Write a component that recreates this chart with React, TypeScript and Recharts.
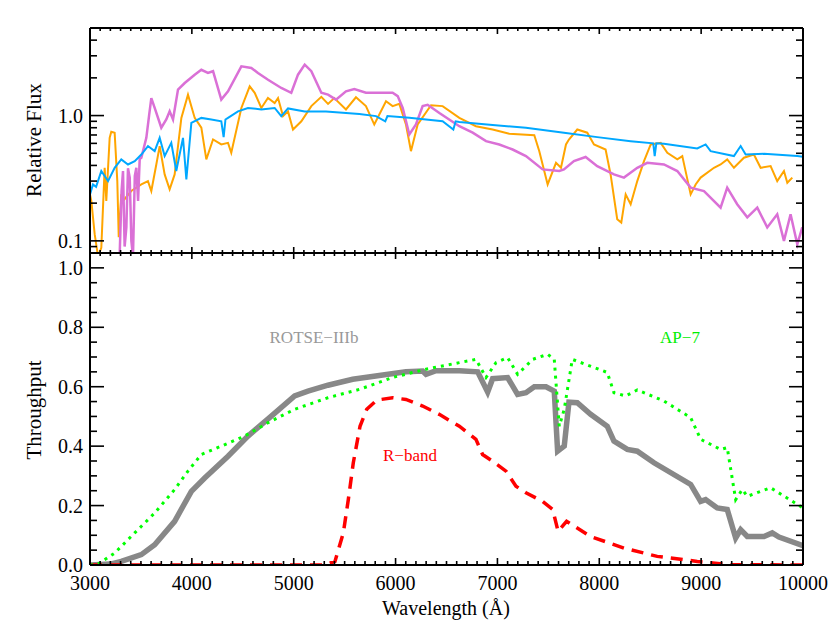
import { LineChart, Line, XAxis, YAxis } from 'recharts'

// ---- top panel: spectra (wavelength in Å, relative flux) ----
const BLUE_W = [3000, 3029, 3060, 3111, 3177, 3242, 3307, 3373, 3439, 3504, 3569, 3635, 3684, 3733, 3798, 3847, 3913, 3946, 3995, 4093, 4191, 4289, 4312, 4330, 4355, 4453, 4551, 4682, 4813, 4878, 4944, 5108, 5271, 5317, 5644, 5808, 5899, 5920, 6135, 6462, 6567, 6590, 6626, 6953, 7280, 7653, 7980, 8308, 8530, 8544, 8560, 8635, 8962, 9044, 9093, 9322, 9388, 9437, 9617, 9944, 10000]
const BLUE_F = [0.235, 0.282, 0.27, 0.361, 0.3, 0.383, 0.447, 0.407, 0.433, 0.489, 0.571, 0.52, 0.664, 0.475, 0.606, 0.361, 0.664, 0.31, 0.875, 0.958, 0.93, 0.9, 0.673, 0.93, 0.958, 1.08, 1.15, 1.12, 1.15, 0.99, 1.14, 1.08, 1.08, 1.08, 1.03, 0.99, 0.9, 0.99, 0.96, 0.9, 0.774, 0.9, 0.89, 0.84, 0.8, 0.73, 0.673, 0.625, 0.6, 0.475, 0.6, 0.595, 0.546, 0.588, 0.52, 0.475, 0.571, 0.489, 0.495, 0.475, 0.47]

const ORANGE_W = [3000, 3013, 3046, 3079, 3111, 3144, 3160, 3193, 3209, 3242, 3268, 3282, 3307, 3324, 3405, 3504, 3569, 3602, 3651, 3684, 3733, 3782, 3831, 3897, 3962, 4028, 4093, 4142, 4208, 4289, 4355, 4387, 4486, 4568, 4617, 4682, 4747, 4813, 4846, 4895, 4944, 4993, 5075, 5173, 5271, 5337, 5398, 5513, 5611, 5709, 5791, 5906, 5971, 6037, 6102, 6151, 6217, 6348, 6462, 6626, 6789, 6953, 7116, 7362, 7411, 7493, 7575, 7624, 7673, 7702, 7784, 7882, 7948, 8062, 8111, 8176, 8216, 8259, 8308, 8373, 8439, 8505, 8603, 8668, 8766, 8815, 8897, 8946, 8995, 9126, 9191, 9256, 9322, 9420, 9518, 9584, 9682, 9747, 9813, 9846, 9895]
const ORANGE_F = [0.235, 0.208, 0.113, 0.075, 0.088, 0.383, 0.208, 0.664, 0.742, 0.73, 0.3, 0.107, 0.235, 0.208, 0.25, 0.282, 0.3, 0.25, 0.407, 0.571, 0.339, 0.258, 0.339, 0.958, 1.47, 0.958, 0.8, 0.447, 0.644, 0.588, 0.606, 0.505, 1.15, 1.71, 1.52, 1.15, 1.38, 1.26, 1.38, 0.99, 1.08, 0.774, 0.9, 1.19, 1.41, 1.24, 1.38, 1.12, 1.4, 1.19, 0.848, 1.3, 1.19, 1.24, 0.848, 0.52, 0.848, 1.21, 1.19, 0.958, 0.823, 0.774, 0.715, 0.698, 0.52, 0.282, 0.42, 0.383, 0.588, 0.644, 0.774, 0.73, 0.588, 0.536, 0.339, 0.149, 0.14, 0.235, 0.196, 0.3, 0.433, 0.588, 0.606, 0.505, 0.447, 0.475, 0.235, 0.282, 0.32, 0.383, 0.407, 0.447, 0.383, 0.461, 0.489, 0.383, 0.395, 0.3, 0.361, 0.291, 0.32]

const MAGENTA_W = [3250, 3291, 3310, 3324, 3340, 3357, 3373, 3390, 3406, 3422, 3440, 3455, 3472, 3488, 3504, 3553, 3580, 3602, 3635, 3700, 3749, 3782, 3815, 3864, 3930, 4028, 4093, 4158, 4208, 4289, 4355, 4486, 4584, 4649, 4748, 4878, 4976, 5042, 5108, 5173, 5271, 5337, 5415, 5513, 5595, 5709, 5971, 6021, 6070, 6135, 6200, 6266, 6315, 6430, 6626, 6757, 6888, 7018, 7149, 7280, 7444, 7607, 7653, 7751, 7866, 7980, 8144, 8242, 8373, 8471, 8635, 8766, 8897, 9028, 9191, 9256, 9354, 9453, 9551, 9649, 9747, 9813, 9878, 9944, 9993, 10000]
const MAGENTA_F = [0.07, 0.075, 0.25, 0.361, 0.09, 0.128, 0.38, 0.32, 0.1, 0.075, 0.33, 0.383, 0.208, 0.45, 0.46, 0.664, 1.0, 1.38, 1.15, 0.8, 0.93, 1.08, 0.93, 1.61, 1.82, 2.12, 2.32, 2.19, 2.26, 1.34, 1.56, 2.47, 2.4, 2.19, 1.93, 1.66, 1.52, 2.12, 2.55, 2.26, 1.52, 1.47, 1.34, 1.56, 1.63, 1.52, 1.52, 1.43, 1.15, 0.706, 0.848, 1.19, 1.22, 1.05, 0.823, 0.73, 0.625, 0.588, 0.536, 0.475, 0.372, 0.361, 0.372, 0.433, 0.467, 0.395, 0.339, 0.32, 0.383, 0.42, 0.407, 0.361, 0.266, 0.25, 0.184, 0.266, 0.196, 0.154, 0.184, 0.128, 0.163, 0.1, 0.163, 0.094, 0.128, 0.12]

// ---- bottom panel: throughput curves ----
const ROTSE_W = [3000, 3200, 3307, 3504, 3635, 3831, 3995, 4126, 4355, 4551, 4780, 5009, 5140, 5336, 5579, 5840, 6102, 6266, 6299, 6397, 6626, 6806, 6904, 6953, 7100, 7198, 7280, 7362, 7477, 7558, 7591, 7656, 7702, 7784, 7915, 8078, 8144, 8275, 8373, 8537, 8897, 8995, 9044, 9158, 9256, 9339, 9388, 9453, 9617, 9698, 9764, 10000]
const ROTSE_T = [0.0, 0.003, 0.012, 0.035, 0.068, 0.147, 0.248, 0.293, 0.366, 0.434, 0.501, 0.569, 0.585, 0.605, 0.625, 0.638, 0.65, 0.653, 0.642, 0.654, 0.654, 0.65, 0.582, 0.627, 0.631, 0.574, 0.58, 0.6, 0.6, 0.585, 0.383, 0.4, 0.548, 0.546, 0.507, 0.467, 0.417, 0.389, 0.383, 0.344, 0.271, 0.214, 0.22, 0.192, 0.187, 0.091, 0.119, 0.096, 0.096, 0.108, 0.094, 0.065]

const AP7_W = [3000, 3079, 3242, 3439, 3635, 3831, 3962, 4093, 4289, 4519, 4748, 5009, 5336, 5644, 5971, 6299, 6626, 6789, 6888, 6986, 7100, 7198, 7346, 7493, 7558, 7607, 7656, 7735, 8078, 8144, 8259, 8373, 8635, 8897, 8995, 9191, 9256, 9339, 9404, 9453, 9682, 10000]
const AP7_T = [0.0, 0.003, 0.04, 0.108, 0.175, 0.254, 0.316, 0.372, 0.4, 0.434, 0.479, 0.524, 0.563, 0.591, 0.631, 0.659, 0.681, 0.692, 0.631, 0.681, 0.698, 0.642, 0.692, 0.709, 0.692, 0.467, 0.524, 0.692, 0.648, 0.58, 0.569, 0.589, 0.552, 0.496, 0.423, 0.389, 0.395, 0.22, 0.254, 0.231, 0.26, 0.192]

const RBAND_W = [3000, 5300, 5405, 5487, 5536, 5585, 5651, 5717, 5815, 5971, 6102, 6266, 6429, 6626, 6789, 6854, 6953, 7084, 7182, 7280, 7444, 7542, 7596, 7679, 7915, 8242, 8569, 8962, 9290, 10000]
const RBAND_T = [0, 0, 0.012, 0.108, 0.22, 0.344, 0.467, 0.524, 0.555, 0.563, 0.557, 0.535, 0.507, 0.467, 0.423, 0.372, 0.349, 0.316, 0.265, 0.243, 0.214, 0.187, 0.113, 0.147, 0.096, 0.057, 0.029, 0.012, 0.001, 0]

// ---- ticks ----
const X_MAJOR = [3000, 4000, 5000, 6000, 7000, 8000, 9000, 10000]
const X_TICKS = Array.from({ length: 71 }, (_, i) => 3000 + i * 100)
const FLUX_MAJOR = [0.1, 1]
const FLUX_TICKS = [0.09, 0.1, 0.2, 0.3, 0.4, 0.5, 0.6, 0.7, 0.8, 0.9, 1, 2, 3, 4]
const THRU_MAJOR = [0, 0.2, 0.4, 0.6, 0.8, 1.0]
const THRU_TICKS = Array.from({ length: 22 }, (_, i) => Math.round(i * 5) / 100)

const pairs = (w: number[], v: number[]) => w.map((x, i) => ({ w: x, v: v[i] }))

const FONT = '"Liberation Serif", "Times New Roman", serif'
const AXIS = { stroke: '#000', strokeWidth: 2 }

type Side = 'bottom' | 'top' | 'left' | 'right'

const isIn = (list: number[], v: number) => list.some((m) => Math.abs(m - v) < 1e-6)

// draws inward tick marks (long for majors) and optional labels
function ticker(side: Side, majors: number[], big: number, small: number, fmt?: (v: number) => string) {
  return (props: any) => {
    const { x, y, payload } = props
    const v = payload.value
    const major = isIn(majors, v)
    const len = major ? big : small
    let x2 = x
    let y2 = y
    if (side === 'bottom') y2 = y - len
    if (side === 'top') y2 = y + len
    if (side === 'left') x2 = x + len
    if (side === 'right') x2 = x - len
    return (
      <g>
        <line x1={x} y1={y} x2={x2} y2={y2} stroke="#000" strokeWidth={1.6} />
        {fmt && major && side === 'bottom' && (
          <text x={x} y={y + 25} textAnchor="middle" fontFamily={FONT} fontSize={20} fill="#000">
            {fmt(v)}
          </text>
        )}
        {fmt && major && side === 'left' && (
          <text x={x - 7} y={y + 7} textAnchor="end" fontFamily={FONT} fontSize={20} fill="#000">
            {fmt(v)}
          </text>
        )}
      </g>
    )
  }
}

// axes are 1px thick boxes so the plot frame sits on the margins below
const common = { tickSize: 0, tickMargin: 0, tickLine: false, interval: 0 as const, axisLine: AXIS }

export default function App() {
  return (
    <div style={{ position: 'absolute', left: 0, top: 0, width: 830, height: 623, background: '#fff' }}>
      <div style={{ position: 'absolute', left: 0, top: 0 }}>
        <LineChart width={830} height={253} margin={{ top: 27, right: 26, bottom: -1, left: 89 }}>
          <XAxis xAxisId="b" type="number" dataKey="w" domain={[3000, 10000]} allowDataOverflow ticks={X_TICKS} height={1} tick={ticker('bottom', X_MAJOR, 6, 3)} {...common} />
          <XAxis xAxisId="t" orientation="top" type="number" dataKey="w" domain={[3000, 10000]} allowDataOverflow ticks={X_TICKS} height={1} tick={ticker('top', X_MAJOR, 6, 3)} {...common} />
          <YAxis yAxisId="l" type="number" scale="log" domain={[0.08, 5]} allowDataOverflow ticks={FLUX_TICKS} width={1} tick={ticker('left', FLUX_MAJOR, 14, 7, (v) => (v === 1 ? '1.0' : '0.1'))} {...common} />
          <YAxis yAxisId="r" orientation="right" type="number" scale="log" domain={[0.08, 5]} allowDataOverflow ticks={FLUX_TICKS} width={1} tick={ticker('right', FLUX_MAJOR, 14, 7)} {...common} />
          <Line xAxisId="b" yAxisId="l" data={pairs(ORANGE_W, ORANGE_F)} dataKey="v" stroke="#FFA500" strokeWidth={2} dot={false} isAnimationActive={false} />
          <Line xAxisId="b" yAxisId="l" data={pairs(MAGENTA_W, MAGENTA_F)} dataKey="v" stroke="#DA70D6" strokeWidth={2.5} dot={false} isAnimationActive={false} />
          <Line xAxisId="b" yAxisId="l" data={pairs(BLUE_W, BLUE_F)} dataKey="v" stroke="#00A8FF" strokeWidth={2} dot={false} isAnimationActive={false} />
        </LineChart>
      </div>
      <div style={{ position: 'absolute', left: 0, top: 253 }}>
        <LineChart width={830} height={370} margin={{ top: -1, right: 26, bottom: 57, left: 89 }}>
          <XAxis xAxisId="b" type="number" dataKey="w" domain={[3000, 10000]} allowDataOverflow ticks={X_TICKS} height={1} tick={ticker('bottom', X_MAJOR, 7, 4, (v) => String(v))} {...common} />
          <XAxis xAxisId="t" orientation="top" type="number" dataKey="w" domain={[3000, 10000]} allowDataOverflow ticks={X_TICKS} height={1} tick={ticker('top', X_MAJOR, 6, 3)} {...common} />
          <YAxis yAxisId="l" type="number" domain={[0, 1.05]} allowDataOverflow ticks={THRU_TICKS} width={1} tick={ticker('left', THRU_MAJOR, 14, 7, (v) => v.toFixed(1))} {...common} />
          <YAxis yAxisId="r" orientation="right" type="number" domain={[0, 1.05]} allowDataOverflow ticks={THRU_TICKS} width={1} tick={ticker('right', THRU_MAJOR, 14, 7)} {...common} />
          <Line xAxisId="b" yAxisId="l" data={pairs(ROTSE_W, ROTSE_T)} dataKey="v" stroke="#888888" strokeWidth={5.5} dot={false} isAnimationActive={false} />
          <Line xAxisId="b" yAxisId="l" data={pairs(RBAND_W, RBAND_T)} dataKey="v" stroke="#FF0000" strokeWidth={3.5} strokeDasharray="12 8" dot={false} isAnimationActive={false} />
          <Line xAxisId="b" yAxisId="l" data={pairs(AP7_W, AP7_T)} dataKey="v" stroke="#00FF00" strokeWidth={3} strokeDasharray="3 5" dot={false} isAnimationActive={false} />
        </LineChart>
      </div>
      {/* axis titles and curve labels */}
      <svg width={830} height={623} style={{ position: 'absolute', left: 0, top: 0, pointerEvents: 'none' }} fontFamily={FONT}>
        <text x={41} y={140} fontSize={21} textAnchor="middle" transform="rotate(-90, 41, 140)" fill="#000">Relative Flux</text>
        <text x={41} y={410} fontSize={21} textAnchor="middle" transform="rotate(-90, 41, 410)" fill="#000">Throughput</text>
        <text x={446} y={615} fontSize={20} textAnchor="middle" fill="#000">Wavelength (Å)</text>
        <text x={314} y={343} fontSize={17} textAnchor="middle" fill="#999999">ROTSE−IIIb</text>
        <text x={680} y={343} fontSize={17} textAnchor="middle" fill="#00EE00">AP−7</text>
        <text x={410} y={461} fontSize={17} textAnchor="middle" fill="#FF0000">R−band</text>
      </svg>
    </div>
  )
}
